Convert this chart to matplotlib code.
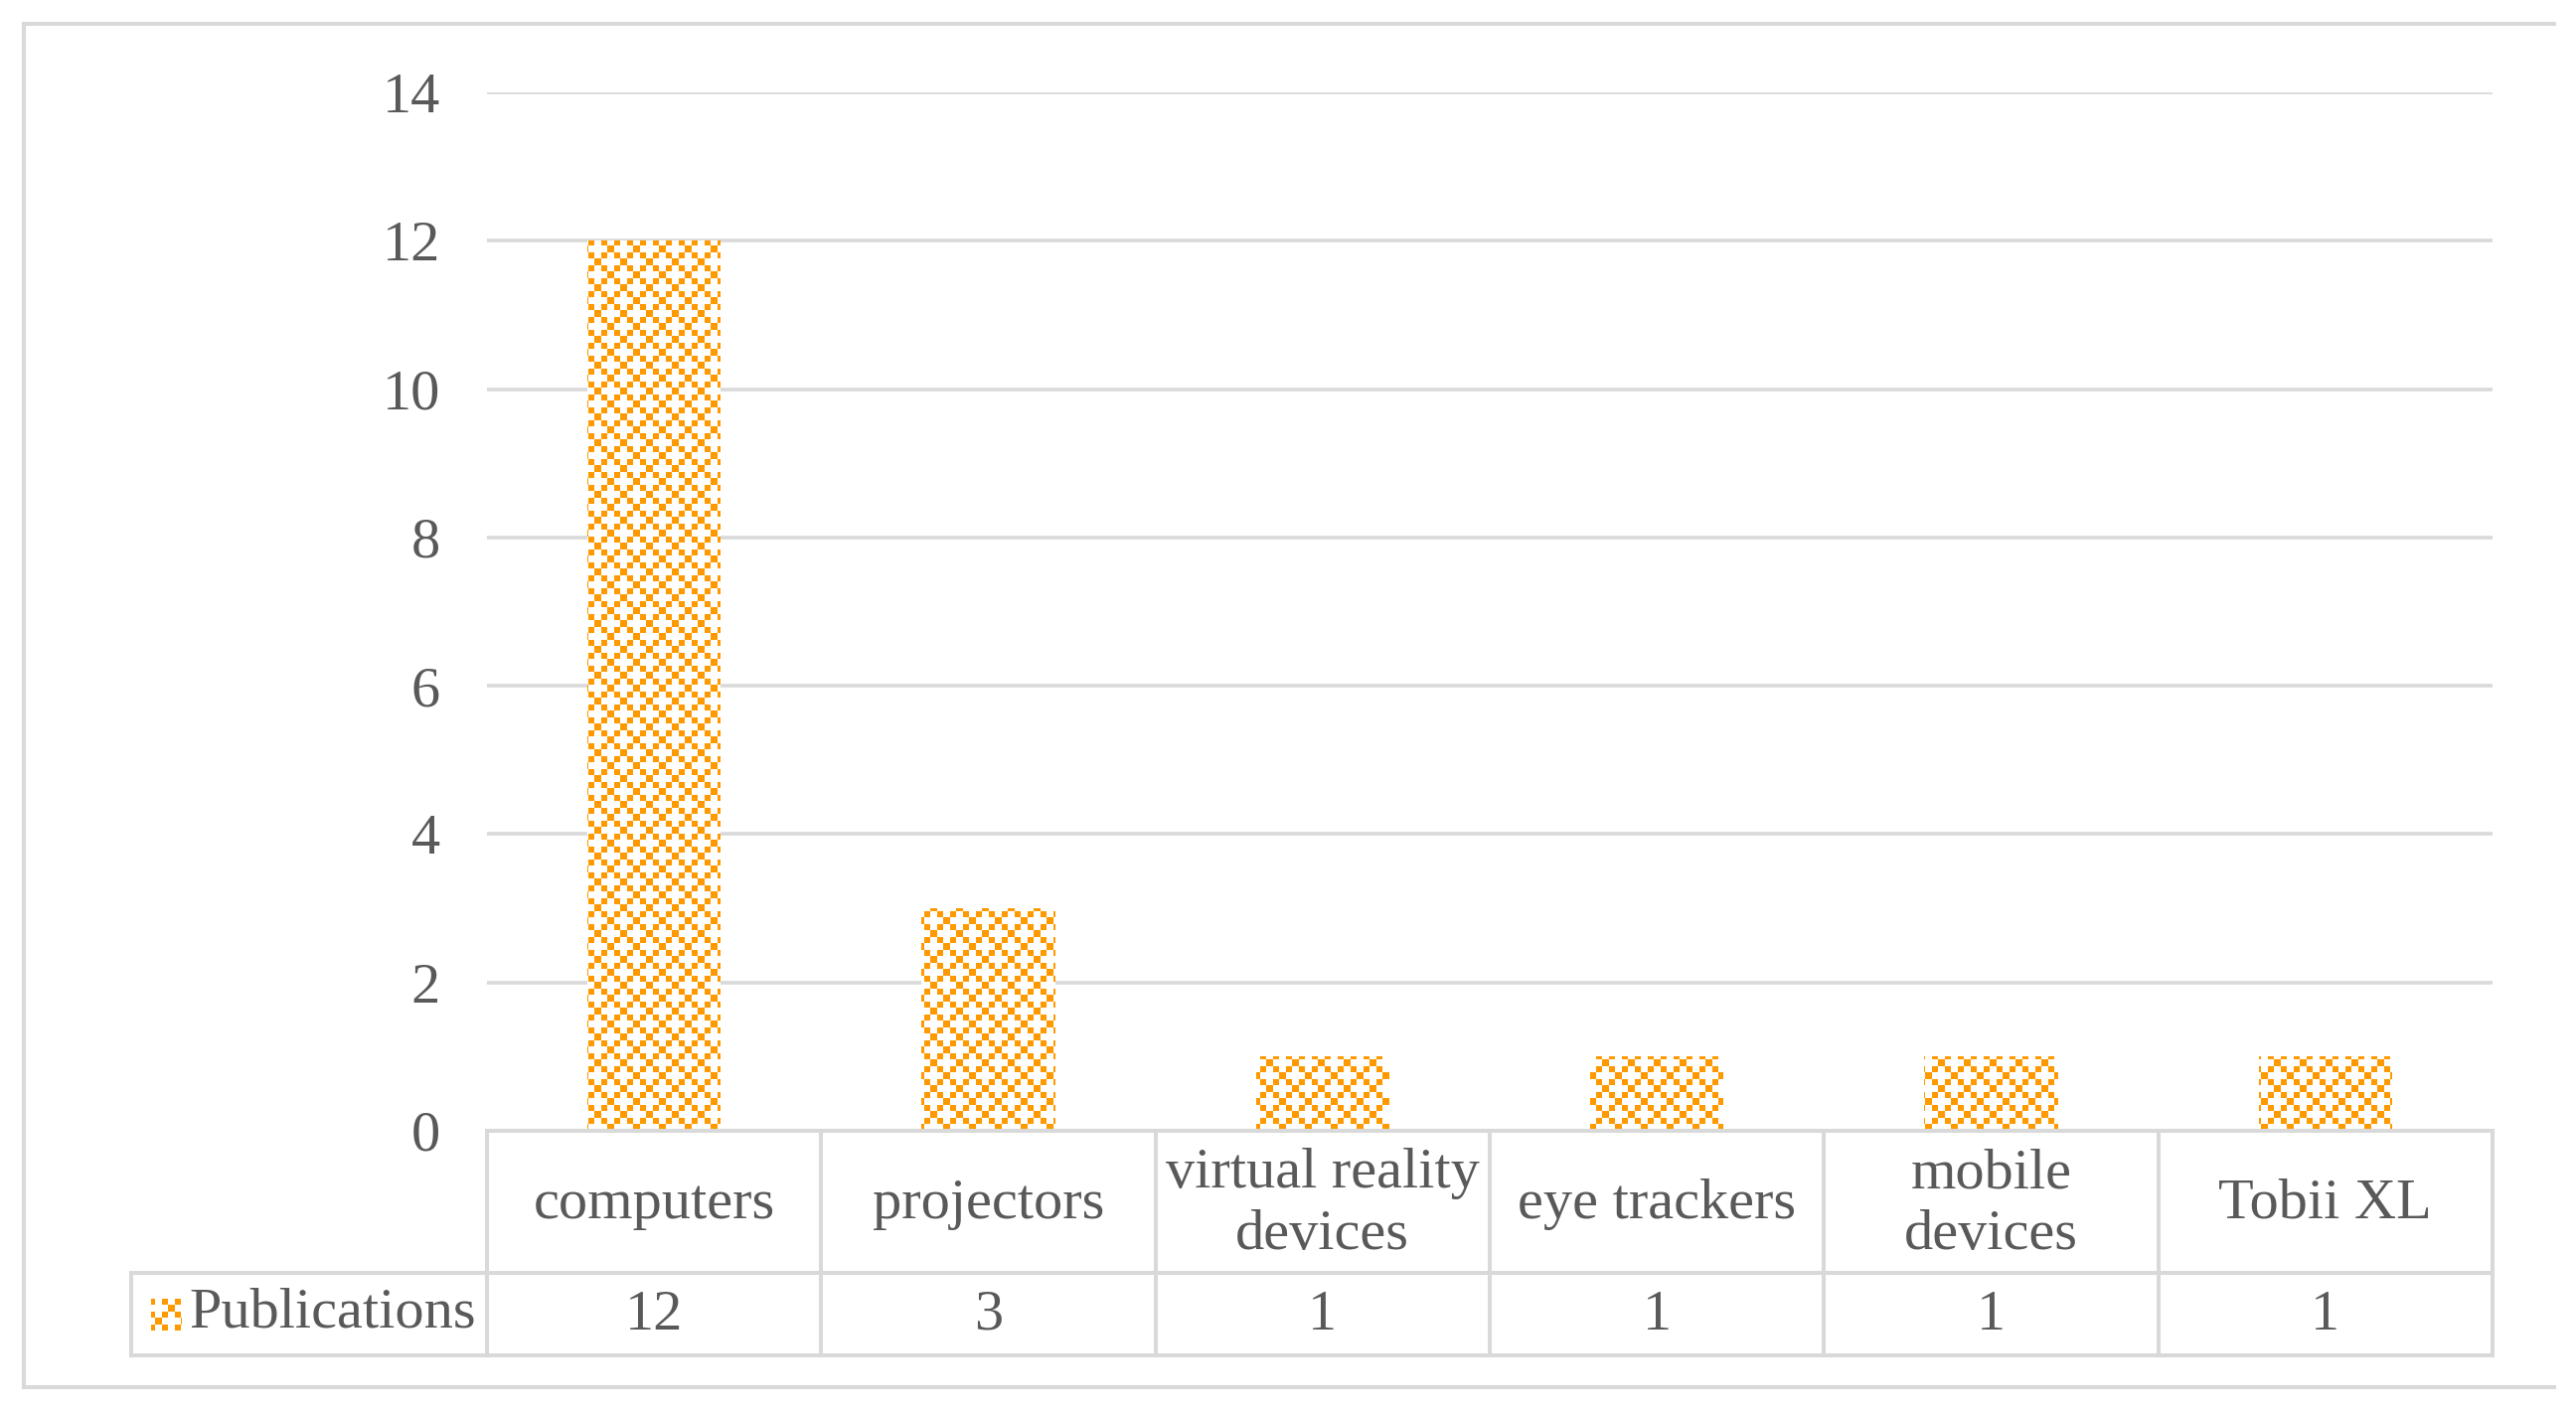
import numpy as np
import matplotlib
matplotlib.use("Agg")
import matplotlib.pyplot as plt
from matplotlib.lines import Line2D
from matplotlib.path import Path
import matplotlib.transforms as mtransforms

# ---------------- data ----------------
categories = ["computers", "projectors", "virtual reality\ndevices",
              "eye trackers", "mobile\ndevices", "Tobii XL"]
publications = [12, 3, 1, 1, 1, 1]
value_labels = ["12", "3", "1", "1", "1", "1"]
yticks = [0, 2, 4, 6, 8, 10, 12, 14]
series_name = "Publications"

plt.rcParams["font.family"] = ["Liberation Serif", "DejaVu Serif"]

W, H = 2592, 1422
TXT = "#595959"
LINE = "#D9D9D9"
ORANGE = np.array([255, 153, 0], dtype=np.uint8)
FS = 42

fig = plt.figure(figsize=(W / 100, H / 100), dpi=100)
ax = fig.add_axes([490 / W, 1 - 1138 / H, (2508 - 490) / W, (1138 - 93) / H])

x = np.arange(len(categories))
bars = ax.bar(x, publications, width=0.4, color="white", edgecolor="none", zorder=2)
ax.set_xlim(-0.5, len(categories) - 0.5)
ax.set_ylim(0, 14)
ax.set_yticks(yticks)
ax.set_yticklabels([str(t) for t in yticks])
ax.yaxis.grid(True, color=LINE, lw=2.6)
ax.set_axisbelow(True)
for s in ax.spines.values():
    s.set_visible(False)
ax.tick_params(axis="y", length=0, pad=34, labelsize=FS, labelcolor=TXT)
ax.set_xticks([])

# ---------------- pattern fill ----------------
yy, xx = np.mgrid[0:H, 0:W]
cell = 6.5
ii = np.floor(yy / cell).astype(int)
jj = np.floor(xx / cell).astype(int)
mask = ((ii + jj) % 4 == 0) | ((ii - jj) % 4 == 0)
img = np.full((H, W, 3), 255, dtype=np.uint8)
img[mask] = ORANGE

im = fig.figimage(img, xo=0, yo=0, origin="upper", zorder=3)
paths = []
for b in bars:
    tr = mtransforms.Affine2D().scale(b.get_width(), b.get_height()).translate(b.get_x(), b.get_y())
    paths.append(Path.unit_rectangle().transformed(tr))
im.set_clip_path(Path.make_compound_path(*paths), ax.transData)

# legend key
im2 = fig.figimage(img, xo=0, yo=0, origin="upper", zorder=3)
kx0, ky0, kw, kh = 152, H - 1339, 31, 32
key = Path.unit_rectangle().transformed(mtransforms.Affine2D().scale(kw, kh).translate(kx0, ky0))
im2.set_clip_path(key, mtransforms.IdentityTransform())

# ---------------- data table ----------------
def fx(px):
    return px / W

def fy(py):
    return 1 - py / H

lw_t = 2.9
y_top, y_mid, y_bot = fy(1138), fy(1281), fy(1364)
bounds = np.arange(len(categories) + 1) - 0.5
xb = [ax.transData.transform((b, 0))[0] / W for b in bounds]
leg_left = fx(132)

# horizontal lines
fig.add_artist(Line2D([xb[0], xb[-1]], [y_top, y_top], color=LINE, lw=lw_t, zorder=4))
fig.add_artist(Line2D([leg_left, xb[-1]], [y_mid, y_mid], color=LINE, lw=lw_t, zorder=4))
fig.add_artist(Line2D([leg_left, xb[-1]], [y_bot, y_bot], color=LINE, lw=lw_t, zorder=4))
# vertical lines
for xv in xb:
    fig.add_artist(Line2D([xv, xv], [y_top, y_bot], color=LINE, lw=lw_t, zorder=4))
fig.add_artist(Line2D([leg_left, leg_left], [y_mid, y_bot], color=LINE, lw=lw_t, zorder=4))

# table texts
for k, (cat, val) in enumerate(zip(categories, value_labels)):
    cx = (xb[k] + xb[k + 1]) / 2
    fig.text(cx, fy(1212), cat, ha="center", va="center", fontsize=FS,
             color=TXT, linespacing=1.23)
    fig.text(cx, fy(1324), val, ha="center", va="center", fontsize=FS, color=TXT)
fig.text(fx(190), fy(1322), series_name, ha="left", va="center", fontsize=FS, color=TXT)

# ---------------- chart-area border (left, top, bottom) ----------------
bl, bt, br, bb = fx(24), fy(24), fx(2570), fy(1396)
fig.add_artist(Line2D([bl, br], [bt, bt], color=LINE, lw=2.9))
fig.add_artist(Line2D([bl, bl], [bt, bb], color=LINE, lw=2.9))
fig.add_artist(Line2D([bl, br], [bb, bb], color=LINE, lw=2.9))

fig.savefig("out.png", dpi=100, facecolor="white")
